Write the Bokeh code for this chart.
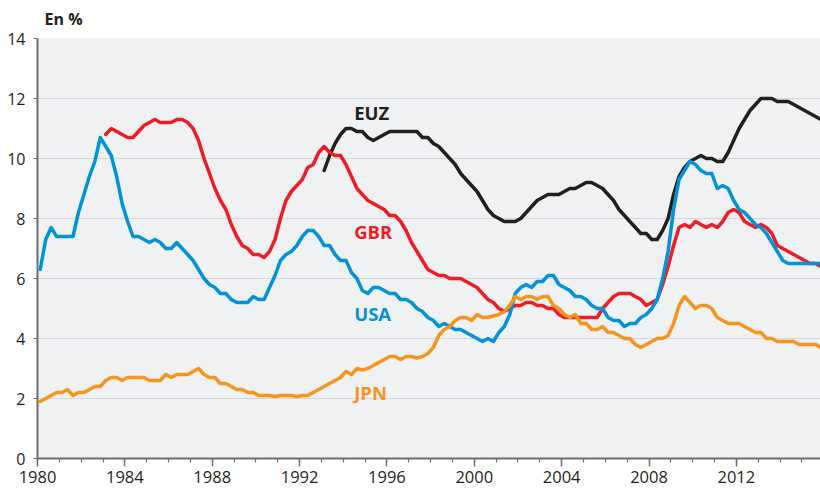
import numpy as np
from bokeh.plotting import figure
from bokeh.models import Range1d, SingleIntervalTicker, FixedTicker, Label
from bokeh.embed import file_html
from bokeh.resources import INLINE

# Quarterly unemployment rates, %, first quarter of start year onwards
usa_start = 1980
usa = [6.3, 7.3, 7.7, 7.4, 7.4, 7.4, 7.4, 8.2, 8.8, 9.4, 9.9, 10.7,
       10.4, 10.1, 9.4, 8.5, 7.9, 7.4, 7.4, 7.3, 7.2, 7.3, 7.2, 7.0,
       7.0, 7.2, 7.0, 6.8, 6.6, 6.3, 6.0, 5.8, 5.7, 5.5, 5.5, 5.3,
       5.2, 5.2, 5.2, 5.4, 5.3, 5.3, 5.7, 6.1, 6.6, 6.8, 6.9, 7.1,
       7.4, 7.6, 7.6, 7.4, 7.1, 7.1, 6.8, 6.6, 6.6, 6.2, 6.0, 5.6,
       5.5, 5.7, 5.7, 5.6, 5.5, 5.5, 5.3, 5.3, 5.2, 5.0, 4.9, 4.7,
       4.6, 4.4, 4.5, 4.4, 4.3, 4.3, 4.2, 4.1, 4.0, 3.9, 4.0, 3.9,
       4.2, 4.4, 4.8, 5.5, 5.7, 5.8, 5.7, 5.9, 5.9, 6.1, 6.1, 5.8,
       5.7, 5.6, 5.4, 5.4, 5.3, 5.1, 5.0, 5.0, 4.7, 4.6, 4.6, 4.4,
       4.5, 4.5, 4.7, 4.8, 5.0, 5.3, 6.0, 6.9, 8.3, 9.3, 9.6, 9.9,
       9.8, 9.6, 9.5, 9.5, 9.0, 9.1, 9.0, 8.6, 8.3, 8.2, 8.0, 7.8,
       7.7, 7.5, 7.2, 6.9, 6.6, 6.5, 6.5, 6.5, 6.5, 6.5, 6.5, 6.5]

gbr_start = 1983
gbr = [10.8, 11.0, 10.9, 10.8, 10.7, 10.7, 10.9, 11.1, 11.2, 11.3, 11.2, 11.2,
       11.2, 11.3, 11.3, 11.2, 11.0, 10.6, 10.0, 9.5, 9.0, 8.6, 8.3, 7.8,
       7.4, 7.1, 7.0, 6.8, 6.8, 6.7, 6.9, 7.3, 8.0, 8.6, 8.9, 9.1,
       9.3, 9.7, 9.8, 10.2, 10.4, 10.2, 10.1, 10.1, 9.8, 9.4, 9.0, 8.8,
       8.6, 8.5, 8.4, 8.3, 8.1, 8.1, 7.9, 7.6, 7.2, 6.9, 6.6, 6.3,
       6.2, 6.1, 6.1, 6.0, 6.0, 6.0, 5.9, 5.8, 5.7, 5.5, 5.3, 5.2,
       5.0, 4.9, 5.0, 5.1, 5.1, 5.2, 5.2, 5.1, 5.1, 5.0, 5.0, 4.8,
       4.7, 4.7, 4.7, 4.7, 4.7, 4.7, 4.7, 5.0, 5.2, 5.4, 5.5, 5.5,
       5.5, 5.4, 5.3, 5.1, 5.2, 5.3, 5.8, 6.4, 7.1, 7.7, 7.8, 7.7,
       7.9, 7.8, 7.7, 7.8, 7.7, 7.9, 8.2, 8.3, 8.2, 7.9, 7.8, 7.7,
       7.8, 7.7, 7.5, 7.1, 7.0, 6.9, 6.8, 6.7, 6.6, 6.5, 6.5, 6.4]

jpn_start = 1980
jpn = [1.9, 2.0, 2.1, 2.2, 2.2, 2.3, 2.1, 2.2, 2.2, 2.3, 2.4, 2.4,
       2.6, 2.7, 2.7, 2.6, 2.7, 2.7, 2.7, 2.7, 2.6, 2.6, 2.6, 2.8,
       2.7, 2.8, 2.8, 2.8, 2.9, 3.0, 2.8, 2.7, 2.7, 2.5, 2.5, 2.4,
       2.3, 2.3, 2.2, 2.2, 2.1, 2.1, 2.1, 2.07, 2.1, 2.1, 2.1, 2.07,
       2.1, 2.1, 2.2, 2.3, 2.4, 2.5, 2.6, 2.7, 2.9, 2.8, 3.0, 2.95,
       3.0, 3.1, 3.2, 3.3, 3.4, 3.4, 3.3, 3.4, 3.4, 3.35, 3.4, 3.5,
       3.7, 4.1, 4.3, 4.4, 4.6, 4.7, 4.7, 4.6, 4.8, 4.7, 4.7, 4.75,
       4.8, 4.9, 5.1, 5.4, 5.3, 5.4, 5.4, 5.3, 5.4, 5.4, 5.1, 5.0,
       4.8, 4.7, 4.8, 4.5, 4.5, 4.3, 4.3, 4.4, 4.2, 4.2, 4.1, 4.0,
       4.0, 3.8, 3.7, 3.8, 3.9, 4.0, 4.0, 4.1, 4.5, 5.1, 5.4, 5.2,
       5.0, 5.1, 5.1, 5.0, 4.7, 4.6, 4.5, 4.5, 4.5, 4.4, 4.3, 4.2,
       4.2, 4.0, 4.0, 3.9, 3.9, 3.9, 3.9, 3.8, 3.8, 3.8, 3.8, 3.7]

euz_start = 1993
euz = [9.6, 10.1, 10.5, 10.8, 11.0, 11.0, 10.9, 10.9, 10.7, 10.6, 10.7, 10.8,
       10.9, 10.9, 10.9, 10.9, 10.9, 10.9, 10.7, 10.7, 10.5, 10.4, 10.2, 10.0,
       9.8, 9.5, 9.3, 9.1, 8.9, 8.6, 8.3, 8.1, 8.0, 7.9, 7.9, 7.9,
       8.0, 8.2, 8.4, 8.6, 8.7, 8.8, 8.8, 8.8, 8.9, 9.0, 9.0, 9.1,
       9.2, 9.2, 9.1, 9.0, 8.8, 8.6, 8.3, 8.1, 7.9, 7.7, 7.5, 7.5,
       7.3, 7.3, 7.6, 8.0, 8.8, 9.4, 9.7, 9.9, 10.0, 10.1, 10.0, 10.0,
       9.9, 9.9, 10.2, 10.6, 11.0, 11.3, 11.6, 11.8, 12.0, 12.0, 12.0, 11.9,
       11.9, 11.9, 11.8, 11.7, 11.6, 11.5, 11.4, 11.3]

# drawing order: bottom to top
series_names = ["EUZ", "GBR", "USA", "JPN"]
series_colors = ["#231f20", "#ee1d25", "#0093d8", "#f7941d"]
label_x = [1994.5, 1994.5, 1994.5, 1994.5]
label_y = [11.54, 7.57, 4.84, 2.21]

y_ticks = [0, 2, 4, 6, 8, 10, 12, 14]


def qx(start, vals):
    return start + (np.arange(len(vals)) + 0.5) / 4.0


p = figure(width=820, height=488,
           x_range=Range1d(1980, 2015.852), y_range=Range1d(0, 14),
           output_backend="svg", toolbar_location=None,
           min_border_left=37, min_border_right=0,
           min_border_top=38, min_border_bottom=30)
p.background_fill_color = "#f0f1f3"
p.border_fill_color = "white"
p.outline_line_color = None
p.xgrid.grid_line_color = None
p.ygrid.ticker = FixedTicker(ticks=y_ticks[1:-1])
p.ygrid.grid_line_color = "#d6d7da"
p.ygrid.grid_line_width = 1

p.title.text = "En %"
p.title.align = "left"
p.title.vertical_align = "top"
p.title.offset = 7
p.title.standoff = 14
p.title.text_font = "Open Sans"
p.title.text_font_style = "bold"
p.title.text_font_size = "16px"
p.title.text_color = "#231f20"

axis_col = "#6d6e71"
xa = p.xaxis[0]
xa.ticker = SingleIntervalTicker(interval=4, num_minor_ticks=4)
xa.axis_line_color = axis_col
xa.axis_line_width = 2
xa.major_tick_line_color = axis_col
xa.major_tick_line_width = 1.5
xa.minor_tick_line_color = axis_col
xa.minor_tick_line_width = 1.2
xa.major_tick_in = 0
xa.major_tick_out = 8
xa.minor_tick_in = 0
xa.minor_tick_out = 4
xa.major_label_standoff = 4
xa.major_label_text_align = "left"
xa.major_label_text_font = "Open Sans"
xa.major_label_text_font_size = "16.5px"
xa.major_label_text_color = "#231f20"

ya = p.yaxis[0]
ya.ticker = FixedTicker(ticks=y_ticks)
ya.axis_line_color = axis_col
ya.axis_line_width = 2
ya.major_tick_line_color = axis_col
ya.major_tick_line_width = 1.2
ya.major_tick_in = 0
ya.major_tick_out = 4
ya.minor_tick_line_color = None
ya.major_label_standoff = 8
ya.major_label_text_font = "Open Sans"
ya.major_label_text_font_size = "16px"
ya.major_label_text_color = "#231f20"

data = {"JPN": (jpn_start, jpn), "GBR": (gbr_start, gbr),
        "USA": (usa_start, usa), "EUZ": (euz_start, euz)}

for name, col, lx, ly in zip(series_names, series_colors, label_x, label_y):
    start, vals = data[name]
    p.line(qx(start, vals), vals, line_color=col, line_width=3.5,
           line_join="round", line_cap="round")
    p.add_layout(Label(x=lx, y=ly, text=name, text_color=col,
                       text_font="Open Sans", text_font_style="bold",
                       text_font_size="18.5px", text_align="left",
                       text_baseline="alphabetic"))

open("out.html", "w").write(file_html(p, INLINE))
